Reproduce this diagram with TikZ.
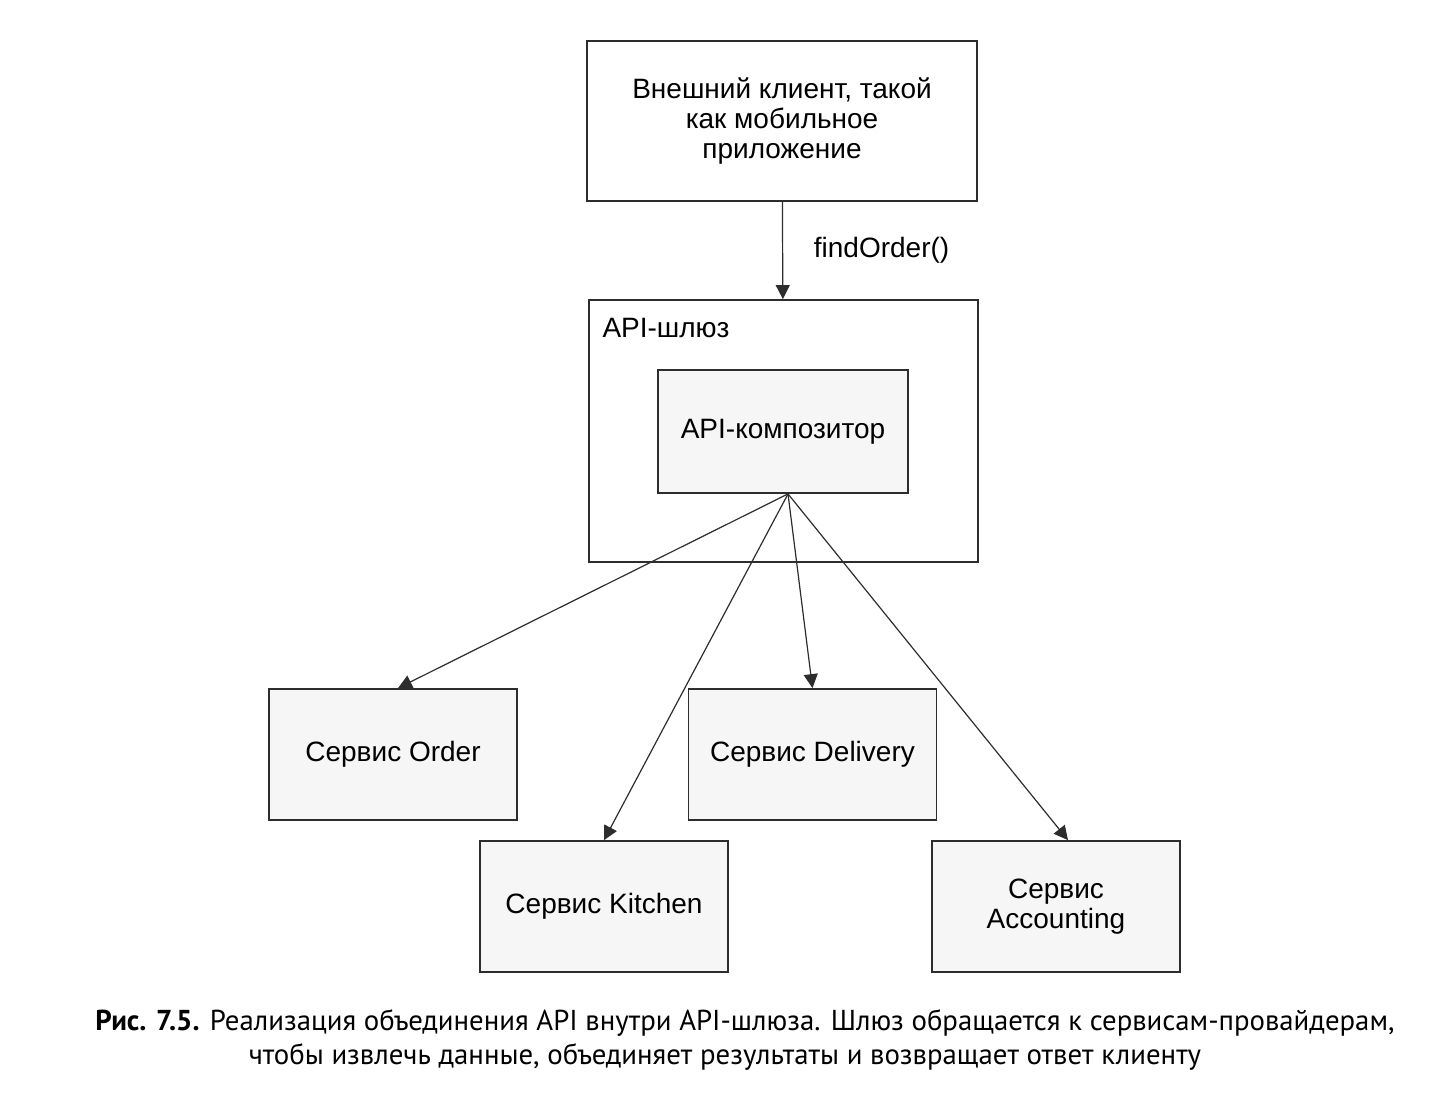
\documentclass[tikz,border=0pt]{standalone}
\usepackage{fontspec}
\setmainfont{Liberation Sans}
\newfontfamily\capfont{PT Sans}
\usetikzlibrary{arrows.meta, positioning}
\definecolor{boxgray}{RGB}{246,246,246}
\definecolor{linegray}{RGB}{45,45,45}

\begin{document}
\begin{tikzpicture}[
    x=0.5pt, y=-0.5pt,
    plainbox/.style={rectangle, draw=linegray, line width=0.9pt, align=center, font=\fontsize{14}{15}\selectfont},
    servicebox/.style={plainbox, fill=boxgray, minimum width=124pt, minimum height=65.5pt},
    arrow/.style={-{Triangle[length=7pt, width=7pt]}, line width=0.6pt, draw=linegray},
    caption/.style={inner sep=0pt, font=\capfont\fontsize{14.4}{17}\selectfont}
]
\useasboundingbox (0,0) rectangle (1440,1100);

% Client
\node[plainbox, minimum width=195pt, minimum height=80pt] (client) at (782,121) {Внешний клиент, такой\\как мобильное\\приложение};

% Gateway with composer
\node[plainbox, minimum width=194.5pt, minimum height=131pt] (gateway) at (783.5,431) {};
\node[anchor=north west, inner sep=0pt, font=\fontsize{14}{15}\selectfont] (gwlabel) at ([shift={(14,19)}]gateway.north west) {API-шлюз};
\node[plainbox, fill=boxgray, minimum width=125pt, minimum height=61.5pt] (composer) at (783,431.5) {API-композитор};

% Services
\node[servicebox] (order) at (393,754.5) {Сервис Order};
\node[servicebox] (delivery) at (812.5,754.5) {Сервис Delivery};
\node[servicebox] (kitchen) at (604,906.5) {Сервис Kitchen};
\node[servicebox] (accounting) at (1056,906.5) {Сервис\\Accounting};

% Arrows
\draw[arrow] (client) -- node[right=12pt, font=\fontsize{14}{15}\selectfont] {findOrder()} (gateway);
\coordinate (fan) at ([xshift=2.5pt]composer.south);
\draw[arrow] (fan) -- ([xshift=2.5pt]order.north);
\draw[arrow] (fan) -- (kitchen.north);
\draw[arrow] (fan) -- (delivery.north);
\draw[arrow] (fan) -- ([xshift=6pt]accounting.north);

% Caption
\node[caption] (capline1) at (745,1023) {\textbf{Рис. 7.5.} Реализация объединения API внутри API-шлюза. Шлюз обращается к сервисам-провайдерам,};
\node[caption] (capline2) at (725,1057) {чтобы извлечь данные, объединяет результаты и возвращает ответ клиенту};

\end{tikzpicture}
\end{document}
